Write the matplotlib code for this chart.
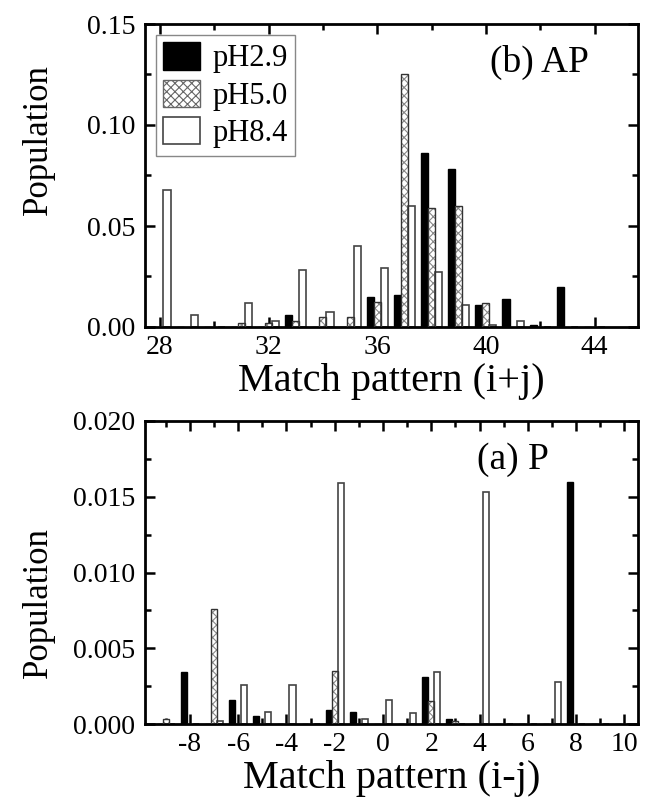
import numpy as np
import matplotlib
matplotlib.use("Agg")
import matplotlib.pyplot as plt
from matplotlib.ticker import MultipleLocator, FormatStrFormatter
from matplotlib.patches import Patch

plt.rcParams['font.family'] = ['Liberation Serif', 'DejaVu Serif']
plt.rcParams['axes.unicode_minus'] = False
plt.rcParams['hatch.linewidth'] = 0.8

# ---- (b) AP : match pattern (i+j) ----
ap_x = [28, 29, 30, 31, 32, 33, 34, 35, 36, 37, 38, 39, 40, 41, 42, 43, 44]
ap_ph29 = [0, 0, 0, 0, 0, 0.006, 0, 0, 0.015, 0.016, 0.086, 0.078, 0.011, 0.014, 0.0008, 0.020, 0]
ap_ph50 = [0, 0, 0, 0.002, 0.002, 0.003, 0.005, 0.005, 0.0125, 0.125, 0.059, 0.060, 0.012, 0, 0, 0, 0]
ap_ph84 = [0.068, 0.006, 0, 0.012, 0.003, 0.028, 0.0074, 0.040, 0.029, 0.060, 0.027, 0.011, 0.001, 0.003, 0, 0, 0]

# ---- (a) P : match pattern (i-j) ----
p_x = [-9, -8, -7, -6, -5, -4, -3, -2, -1, 0, 1, 2, 3, 4, 5, 6, 7, 8, 9, 10]
p_ph29 = [0, 0.0034, 0, 0.0016, 0.0005, 0, 0, 0.0009, 0.0008, 0, 0, 0.0031, 0.0003, 0, 0, 0, 0, 0.016, 0, 0]
p_ph50 = [0.0003, 0, 0.0076, 0, 0, 0, 0, 0.0035, 0, 0, 0, 0.0015, 0.0002, 0, 0, 0, 0, 0, 0, 0]
p_ph84 = [0, 0, 0.0002, 0.0026, 0.0008, 0.0026, 0, 0.0159, 0.0003, 0.0016, 0.0007, 0.0034, 0, 0.0153, 0, 0, 0.0028, 0, 0, 0]

labels = ['pH2.9', 'pH5.0', 'pH8.4']

fig = plt.figure(figsize=(6.5, 8.09), dpi=100)
ax_top = fig.add_axes([145/650, 1-327/809, (638-145)/650, (327-24)/809])
ax_bot = fig.add_axes([145/650, 1-724/809, (638-145)/650, (724-421)/809])


def draw(ax, x, s1, s2, s3, w):
    x = np.asarray(x, float)
    ax.bar(x - w, s1, width=w, color='black', edgecolor='black', linewidth=1.0, zorder=2)
    ax.bar(x, s2, width=w, color='white', edgecolor='#888888', hatch='xxxx', linewidth=0, zorder=2)
    ax.bar(x, s2, width=w, fill=False, edgecolor='#333333', linewidth=1.0, zorder=3)
    ax.bar(x + w, s3, width=w, color='white', edgecolor='#444444', linewidth=1.2, zorder=2)


def style(ax):
    for sp in ax.spines.values():
        sp.set_linewidth(2.0)
    ax.tick_params(which='both', direction='in', top=True, right=True, width=1.8,
                   labelsize=20)
    ax.tick_params(axis='y', which='both', pad=7)
    ax.tick_params(axis='x', which='both', pad=6)
    ax.tick_params(which='major', length=7)
    ax.tick_params(which='minor', length=4)


draw(ax_top, ap_x, ap_ph29, ap_ph50, ap_ph84, 0.26)
ax_top.set_xlim(27.45, 45.6)
ax_top.set_ylim(0, 0.15)
ax_top.xaxis.set_major_locator(MultipleLocator(4))
ax_top.xaxis.set_minor_locator(MultipleLocator(2))
ax_top.yaxis.set_major_locator(MultipleLocator(0.05))
ax_top.yaxis.set_minor_locator(MultipleLocator(0.025))
ax_top.yaxis.set_major_formatter(FormatStrFormatter('%.2f'))
style(ax_top)
ax_top.set_xlabel('Match pattern (i+j)', fontsize=29, labelpad=2)
ax_top.set_ylabel('Population', fontsize=25)
ax_top.yaxis.set_label_coords(-0.183, 0.62)
ax_top.text(0.9, 0.93, '(b) AP', transform=ax_top.transAxes, fontsize=27,
            ha='right', va='top')
handles = [Patch(facecolor='black', edgecolor='black'),
           Patch(facecolor='white', edgecolor='#666666', hatch='xxxx'),
           Patch(facecolor='white', edgecolor='#444444', linewidth=1.2)]
ax_top.legend(handles, labels, loc='upper left', fontsize=22, frameon=True,
              fancybox=False, edgecolor='#888888', framealpha=1,
              handlelength=1.2, handleheight=1.0, handletextpad=0.4,
              borderpad=0.25, labelspacing=0.2, borderaxespad=0.35)

draw(ax_bot, p_x, p_ph29, p_ph50, p_ph84, 0.25)
ax_bot.set_xlim(-9.86, 10.56)
ax_bot.set_ylim(0, 0.020)
ax_bot.xaxis.set_major_locator(MultipleLocator(2))
ax_bot.xaxis.set_minor_locator(MultipleLocator(1))
ax_bot.yaxis.set_major_locator(MultipleLocator(0.005))
ax_bot.yaxis.set_minor_locator(MultipleLocator(0.0025))
ax_bot.yaxis.set_major_formatter(FormatStrFormatter('%.3f'))
style(ax_bot)
ax_bot.set_xlabel('Match pattern (i-j)', fontsize=29, labelpad=2)
ax_bot.set_ylabel('Population', fontsize=25)
ax_bot.yaxis.set_label_coords(-0.183, 0.40)
ax_bot.text(0.82, 0.93, '(a) P', transform=ax_bot.transAxes, fontsize=27,
            ha='right', va='top')

fig.savefig('out.png', dpi=100)
